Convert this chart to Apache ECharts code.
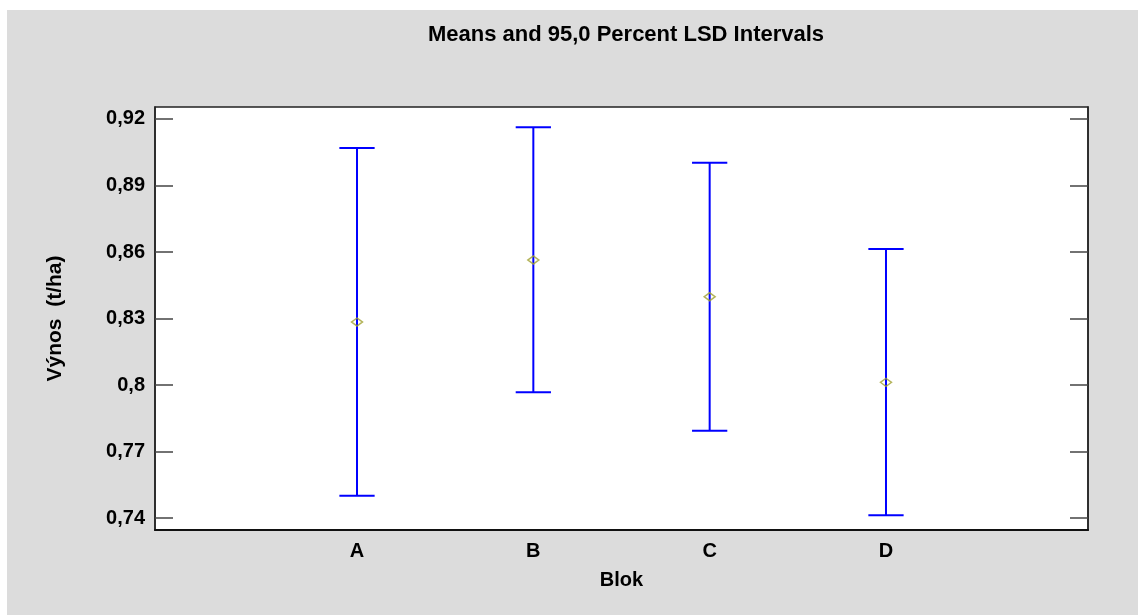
<!DOCTYPE html>
<html>
<head>
<meta charset="utf-8">
<script src="https://cdn.jsdelivr.net/npm/echarts@6/dist/echarts.min.js"></script>
<style>
html,body{margin:0;padding:0;background:#ffffff;width:1138px;height:615px;overflow:hidden;}
#chart{position:absolute;left:7px;top:10px;width:1131px;height:605px;}
</style>
</head>
<body>
<div id="chart"></div>
<script>
const categories = ['A', 'B', 'C', 'D'];
const means = [0.8284, 0.8564, 0.8398, 0.8012];
const lower = [0.7500, 0.7967, 0.7794, 0.7413];
const upper = [0.9069, 0.9163, 0.9002, 0.8614];
const yTickValues = [0.74, 0.77, 0.80, 0.83, 0.86, 0.89, 0.92];
const yTickLabels = ['0,74', '0,77', '0,8', '0,83', '0,86', '0,89', '0,92'];
const xPositions = [1, 2, 3, 4];

const font = '"Liberation Sans", Arial, sans-serif';
const chart = echarts.init(document.getElementById('chart'), null, {renderer: 'canvas'});

function yLabel(v) {
  for (let i = 0; i < yTickValues.length; i++) {
    if (Math.abs(v - yTickValues[i]) < 1e-6) return yTickLabels[i];
  }
  return '';
}
function xLabel(v) {
  for (let i = 0; i < xPositions.length; i++) {
    if (Math.abs(v - xPositions[i]) < 1e-6) return categories[i];
  }
  return '';
}

const barData = categories.map((c, i) => [xPositions[i], lower[i], upper[i]]);
const meanData = categories.map((c, i) => [xPositions[i], means[i]]);

chart.setOption({
  backgroundColor: '#dcdcdc',
  animation: false,
  title: {
    text: 'Means and 95,0 Percent LSD Intervals',
    left: 614,
    textAlign: 'center',
    top: 9,
    textStyle: {fontFamily: font, fontWeight: 'bold', fontSize: 22, color: '#000'}
  },
  grid: {
    left: 148, right: 50, top: 97, bottom: 85,
    show: true, backgroundColor: '#ffffff', borderColor: '#222', borderWidth: 1.5,
    containLabel: false
  },
  xAxis: {
    type: 'value', min: -0.1456, max: 5.1456,
    name: 'Blok', nameLocation: 'middle', nameGap: 40,
    nameTextStyle: {fontFamily: font, fontWeight: 'bold', fontSize: 20, color: '#000'},
    axisLine: {show: true, onZero: false, lineStyle: {color: '#111', width: 2}},
    axisTick: {show: false},
    splitLine: {show: false},
    axisLabel: {
      customValues: xPositions, formatter: xLabel, margin: 11,
      fontFamily: font, fontWeight: 'bold', fontSize: 20, color: '#000'
    }
  },
  yAxis: [{
    type: 'value', min: 0.7346, max: 0.9254, position: 'left',
    name: 'Výnos  (t/ha)', nameLocation: 'middle', nameGap: 89, nameRotate: 90,
    nameTextStyle: {fontFamily: font, fontWeight: 'bold', fontSize: 21, color: '#000'},
    axisLine: {show: true, onZero: false, lineStyle: {color: '#222', width: 1.5}},
    axisTick: {show: true, inside: true, length: 18, customValues: yTickValues, lineStyle: {color: '#444', width: 1.5}},
    splitLine: {show: false},
    axisLabel: {
      customValues: yTickValues, formatter: yLabel, margin: 10,
      fontFamily: font, fontWeight: 'bold', fontSize: 20, color: '#000'
    }
  }, {
    type: 'value', min: 0.7346, max: 0.9254, position: 'right',
    axisLine: {show: true, onZero: false, lineStyle: {color: '#222', width: 1.5}},
    axisTick: {show: true, inside: true, length: 18, customValues: yTickValues, lineStyle: {color: '#444', width: 1.5}},
    splitLine: {show: false},
    axisLabel: {show: false}
  }],
  series: [{
    type: 'custom',
    data: barData,
    encode: {x: 0, y: [1, 2]},
    renderItem: function (params, api) {
      const x = api.value(0);
      const lo = api.coord([x, api.value(1)]);
      const hi = api.coord([x, api.value(2)]);
      const half = api.size([1, 0])[0] * 0.1;
      const style = {stroke: '#0000ff', lineWidth: 2, fill: null};
      return {
        type: 'group',
        children: [
          {type: 'line', shape: {x1: lo[0], y1: lo[1], x2: hi[0], y2: hi[1]}, style: style},
          {type: 'line', shape: {x1: hi[0] - half, y1: hi[1], x2: hi[0] + half, y2: hi[1]}, style: style},
          {type: 'line', shape: {x1: lo[0] - half, y1: lo[1], x2: lo[0] + half, y2: lo[1]}, style: style}
        ]
      };
    },
    z: 2
  }, {
    type: 'scatter',
    data: meanData,
    symbol: 'diamond',
    symbolSize: [11, 8],
    itemStyle: {color: 'rgba(0,0,0,0)', borderColor: '#a0a030', borderWidth: 1.5},
    z: 3
  }]
});
</script>
</body>
</html>
